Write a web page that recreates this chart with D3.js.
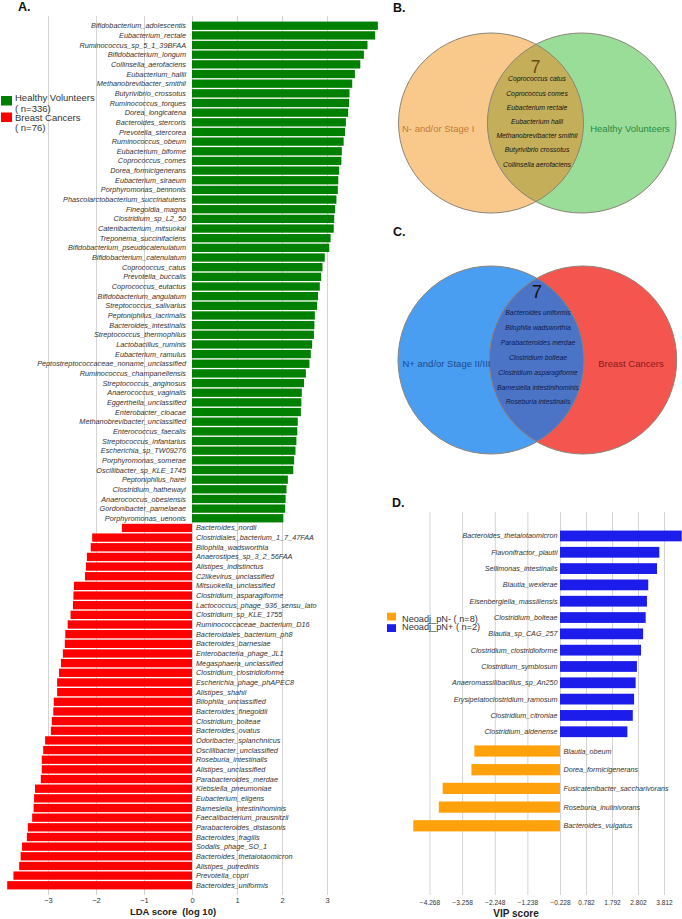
<!DOCTYPE html>
<html>
<head>
<meta charset="utf-8">
<script src="https://cdn.jsdelivr.net/npm/d3@7"></script>
<style>
  body { margin: 0; background: #fff; }
  svg { font-family: "Liberation Sans", Arial, sans-serif; }
  .tick text { fill: #333; }
  .tick line { stroke: #d4d4d4; }
</style>
</head>
<body>
<div id="chart"></div>
<script>
/* DATA */
// panel A: LEfSe, healthy volunteers (positive) vs breast cancers (negative)
const healthyTaxa = [
  "Bifidobacterium_adolescentis", "Eubacterium_rectale", "Ruminococcus_sp_5_1_39BFAA",
  "Bifidobacterium_longum", "Collinsella_aerofaciens", "Eubacterium_hallii",
  "Methanobrevibacter_smithii", "Butyrivibrio_crossotus", "Ruminococcus_torques",
  "Dorea_longicatena", "Bacteroides_stercoris", "Prevotella_stercorea",
  "Ruminococcus_obeum", "Eubacterium_biforme", "Coprococcus_comes",
  "Dorea_formicigenerans", "Eubacterium_siraeum", "Porphyromonas_bennonis",
  "Phascolarctobacterium_succinatutens", "Finegoldia_magna", "Clostridium_sp_L2_50",
  "Catenibacterium_mitsuokai", "Treponema_succinifaciens", "Bifidobacterium_pseudocatenulatum",
  "Bifidobacterium_catenulatum", "Coprococcus_catus", "Prevotella_buccalis",
  "Coprococcus_eutactus", "Bifidobacterium_angulatum", "Streptococcus_salivarius",
  "Peptoniphilus_lacrimalis", "Bacteroides_intestinalis", "Streptococcus_thermophilus",
  "Lactobacillus_ruminis", "Eubacterium_ramulus", "Peptostreptococcaceae_noname_unclassified",
  "Ruminococcus_champanellensis", "Streptococcus_anginosus", "Anaerococcus_vaginalis",
  "Eggerthella_unclassified", "Enterobacter_cloacae", "Methanobrevibacter_unclassified",
  "Enterococcus_faecalis", "Streptococcus_infantarius", "Escherichia_sp_TW09276",
  "Porphyromonas_somerae", "Oscillibacter_sp_KLE_1745", "Peptoniphilus_harei",
  "Clostridium_hathewayi", "Anaerococcus_obesiensis", "Gordonibacter_pamelaeae",
  "Porphyromonas_uenonis"
];
const healthyLDA = [
  4.13, 4.07, 3.90, 3.82, 3.74, 3.62, 3.56, 3.50, 3.49, 3.47,
  3.42, 3.40, 3.37, 3.33, 3.32, 3.27, 3.25, 3.24, 3.21, 3.18,
  3.16, 3.15, 3.08, 3.05, 2.95, 2.90, 2.87, 2.84, 2.80, 2.78,
  2.73, 2.72, 2.71, 2.67, 2.64, 2.61, 2.53, 2.49, 2.44, 2.43,
  2.42, 2.35, 2.34, 2.32, 2.30, 2.27, 2.25, 2.13, 2.10, 2.08,
  2.07, 2.03
];
const cancerTaxa = [
  "Bacteroides_nordii", "Clostridiales_bacterium_1_7_47FAA", "Bilophila_wadsworthia",
  "Anaerostipes_sp_3_2_56FAA", "Alistipes_indistinctus", "C2likevirus_unclassified",
  "Mitsuokella_unclassified", "Clostridium_asparagiforme", "Lactococcus_phage_936_sensu_lato",
  "Clostridium_sp_KLE_1755", "Ruminococcaceae_bacterium_D16", "Bacteroidales_bacterium_ph8",
  "Bacteroides_barnesiae", "Enterobacteria_phage_JL1", "Megasphaera_unclassified",
  "Clostridium_clostridioforme", "Escherichia_phage_phAPEC8", "Alistipes_shahii",
  "Bilophila_unclassified", "Bacteroides_finegoldii", "Clostridium_bolteae",
  "Bacteroides_ovatus", "Odoribacter_splanchnicus", "Oscillibacter_unclassified",
  "Roseburia_intestinalis", "Alistipes_unclassified", "Parabacteroides_merdae",
  "Klebsiella_pneumoniae", "Eubacterium_eligens", "Barnesiella_intestinihominis",
  "Faecalibacterium_prausnitzii", "Parabacteroides_distasonis", "Bacteroides_fragilis",
  "Sodalis_phage_SO_1", "Bacteroides_thetaiotaomicron", "Alistipes_putredinis",
  "Prevotella_copri", "Bacteroides_uniformis"
];
const cancerLDA = [
  -1.46, -2.08, -2.11, -2.19, -2.21, -2.23, -2.46, -2.47, -2.48, -2.53,
  -2.59, -2.64, -2.65, -2.69, -2.73, -2.77, -2.81, -2.81, -2.88, -2.89,
  -2.92, -2.94, -3.06, -3.10, -3.13, -3.13, -3.15, -3.27, -3.29, -3.30,
  -3.33, -3.42, -3.44, -3.54, -3.57, -3.60, -3.72, -3.85
];
const ldaTicks = [-3, -2, -1, 0, 1, 2, 3];
const groupsA = ["Healthy Volunteers", "Breast Cancers"];
const groupsAn = ["( n=336)", "( n=76)"];

// panels B and C: venn overlaps
const vennBSets = ["N- and/or Stage I", "Healthy Volunteers"];
const vennBShared = [
  "Coprococcus catus", "Coprococcus comes", "Eubacterium rectale", "Eubacterium halli",
  "Methanobrevibacter smithii", "Butyrivibrio crossotus", "Collinsella aerofaciens"
];
const vennCSets = ["N+ and/or Stage II/III", "Breast Cancers"];
const vennCShared = [
  "Bacteroides uniformis", "Bilophila wadsworthia", "Parabacteroides merdae",
  "Clostridium bolteae", "Clostridium asparagiforme", "Barnesiella intestinihominis",
  "Roseburia intestinalis"
];

// panel D: VIP scores
const pnPosTaxa = [
  "Bacteroides_thetaiotaomicron", "Flavonifractor_plautii", "Sellimonas_intestinalis",
  "Blautia_wexlerae", "Eisenbergiella_massiliensis", "Clostridium_bolteae",
  "Blautia_sp_CAG_257", "Clostridium_clostridioforme", "Clostridium_symbiosum",
  "Anaeromassilibacillus_sp_An250", "Erysipelatoclostridium_ramosum",
  "Clostridium_citroniae", "Clostridium_aldenense"
];
const pnPosVIP = [4.50, 3.63, 3.54, 3.20, 3.15, 3.10, 3.00, 2.92, 2.76, 2.71, 2.65, 2.60, 2.39];
const pnNegTaxa = [
  "Blautia_obeum", "Dorea_formicigenerans", "Fusicatenibacter_saccharivorans",
  "Roseburia_inulinivorans", "Bacteroides_vulgatus"
];
const pnNegVIP = [-2.88, -2.97, -3.86, -3.98, -4.77];
const vipTicks = [-4.268, -3.258, -2.248, -1.238, -0.228, 0.782, 1.792, 2.802, 3.812];
const groupsD = ["Neoadj_pN- ( n=8)", "Neoadj_pN+ ( n=2)"];

/* SVG */
const width = 682, height = 919;
const svg = d3.select("#chart").append("svg")
  .attr("width", width).attr("height", height);
svg.append("rect").attr("width", width).attr("height", height).attr("fill", "#fff");

function panelLabel(txt, x, y) {
  svg.append("text").attr("x", x).attr("y", y)
    .attr("font-size", 12.5).attr("font-weight", "bold").attr("fill", "#111")
    .text(txt);
}

/* PANEL A */
const ldaData = healthyTaxa.map((t, i) => ({ taxon: t, v: healthyLDA[i], g: 0 }))
  .concat(cancerTaxa.map((t, i) => ({ taxon: t, v: cancerLDA[i], g: 1 })));

const xA = d3.scaleLinear().domain([-3, 0, 3]).range([48, 192, 327]);
const yA = d3.scaleBand()
  .domain(ldaData.map(d => d.taxon + d.g))
  .range([20.9, 890.1])
  .paddingInner(0.14).paddingOuter(0.07);

const gA = svg.append("g");
gA.append("g")
  .attr("transform", `translate(0,895)`)
  .call(d3.axisBottom(xA).tickValues(ldaTicks).tickSize(-879).tickPadding(3).tickFormat(d3.format("d")))
  .call(g => g.select(".domain").remove())
  .call(g => g.selectAll("text").attr("font-size", 7.5).attr("font-family", null));

gA.selectAll("rect.lda")
  .data(ldaData)
  .join("rect")
  .attr("class", "lda")
  .attr("x", d => Math.min(xA(0), xA(d.v)))
  .attr("width", d => Math.abs(xA(d.v) - xA(0)))
  .attr("y", d => yA(d.taxon + d.g))
  .attr("height", yA.bandwidth())
  .attr("fill", d => d.g === 0 ? "#008000" : "#ff0000");

gA.selectAll("text.taxon")
  .data(ldaData)
  .join("text")
  .attr("class", "taxon")
  .attr("x", d => d.g === 0 ? xA(0) - 6 : xA(0) + 4)
  .attr("y", d => yA(d.taxon + d.g) + yA.bandwidth() / 2)
  .attr("dy", "0.35em")
  .attr("text-anchor", d => d.g === 0 ? "end" : "start")
  .attr("font-size", 7.3)
  .attr("font-style", "italic")
  .attr("fill", "#333")
  .text(d => d.taxon);

gA.append("text")
  .attr("x", 173).attr("y", 915)
  .attr("text-anchor", "middle")
  .attr("font-size", 9.5).attr("font-weight", "bold").attr("fill", "#222")
  .attr("xml:space", "preserve")
  .text("LDA score  (log 10)");

// legend A
const legA = gA.append("g");
legA.selectAll("rect")
  .data(groupsA)
  .join("rect")
  .attr("x", 1)
  .attr("y", (d, i) => 96 + i * 16.5)
  .attr("width", 11).attr("height", 9.5)
  .attr("fill", (d, i) => i === 0 ? "#008000" : "#ff0000");
legA.selectAll("text.name")
  .data(groupsA)
  .join("text")
  .attr("class", "name")
  .attr("x", 15)
  .attr("y", (d, i) => 100.5 + i * 20.3)
  .attr("font-size", 9.5).attr("fill", "#333")
  .text(d => d);
legA.selectAll("text.n")
  .data(groupsAn)
  .join("text")
  .attr("class", "n")
  .attr("x", 15)
  .attr("y", (d, i) => 111.5 + i * 19.5)
  .attr("font-size", 9.5).attr("fill", "#333")
  .text(d => d);

panelLabel("A.", 18, 11);

/* VENN */
function venn(cfg) {
  const g = svg.append("g");
  const id = cfg.id;
  g.append("clipPath").attr("id", id)
    .append("ellipse")
    .attr("cx", cfg.right.cx).attr("cy", cfg.cy)
    .attr("rx", cfg.right.rx).attr("ry", cfg.right.ry);

  g.append("ellipse")
    .attr("cx", cfg.left.cx).attr("cy", cfg.cy)
    .attr("rx", cfg.left.rx).attr("ry", cfg.left.ry)
    .attr("fill", cfg.colors[0]);
  g.append("ellipse")
    .attr("cx", cfg.right.cx).attr("cy", cfg.cy)
    .attr("rx", cfg.right.rx).attr("ry", cfg.right.ry)
    .attr("fill", cfg.colors[1]);
  g.append("ellipse")
    .attr("clip-path", `url(#${id})`)
    .attr("cx", cfg.left.cx).attr("cy", cfg.cy)
    .attr("rx", cfg.left.rx).attr("ry", cfg.left.ry)
    .attr("fill", cfg.colors[2]);
  // outlines
  [cfg.left, cfg.right].forEach(c => {
    g.append("ellipse")
      .attr("cx", c.cx).attr("cy", cfg.cy).attr("rx", c.rx).attr("ry", c.ry)
      .attr("fill", "none").attr("stroke", "#8c8478").attr("stroke-width", 1);
  });

  g.append("text")
    .attr("x", cfg.numX).attr("y", cfg.numY)
    .attr("text-anchor", "middle")
    .attr("font-size", cfg.numSize).attr("fill", cfg.numColor)
    .text(cfg.shared.length);

  g.selectAll("text.sp")
    .data(cfg.shared)
    .join("text")
    .attr("class", "sp")
    .attr("x", cfg.listX)
    .attr("y", (d, i) => cfg.listY + i * cfg.listStep)
    .attr("dy", "0.35em")
    .attr("text-anchor", "middle")
    .attr("font-size", 6.8).attr("font-style", "italic").attr("fill", cfg.listColor)
    .text(d => d);

  g.append("text")
    .attr("x", cfg.labelL).attr("y", cfg.cy + cfg.labelDy).attr("dy", "0.35em")
    .attr("font-size", 9.5).attr("fill", cfg.textColors[0])
    .text(cfg.sets[0]);
  g.append("text")
    .attr("x", cfg.labelR).attr("y", cfg.cy + cfg.labelDy).attr("dy", "0.35em")
    .attr("text-anchor", "middle")
    .attr("font-size", 9.5).attr("fill", cfg.textColors[1])
    .text(cfg.sets[1]);
}

venn({
  id: "clipB", cy: 123,
  left: { cx: 491, rx: 92.5, ry: 90 },
  right: { cx: 581.7, rx: 94.3, ry: 90 },
  colors: ["#f9c98c", "#99dd99", "#c4ae5a"],
  numX: 535.5, numY: 72.7, numSize: 17.5, numColor: "#6b4a12",
  shared: vennBShared, listX: 537, listY: 79, listStep: 14.2, listColor: "#111",
  sets: vennBSets, labelL: 402, labelR: 630, labelDy: 5.5,
  textColors: ["#c47a35", "#2b8a3e"]
});
panelLabel("B.", 393, 12);

venn({
  id: "clipC", cy: 360,
  left: { cx: 491, rx: 93, ry: 94 },
  right: { cx: 583, rx: 93.7, ry: 94 },
  colors: ["#4a9ef2", "#f4554f", "#4b74c6"],
  numX: 537, numY: 298.3, numSize: 18.5, numColor: "#111",
  shared: vennCShared, listX: 538, listY: 312.7, listStep: 14.9, listColor: "#0d1a45",
  sets: vennCSets, labelL: 402.5, labelR: 631, labelDy: 3.5,
  textColors: ["#1e4a8a", "#8b1a1a"]
});
panelLabel("C.", 393, 236);

/* PANEL D */
const xD = d3.scaleLinear().domain([-4.268, -0.228, 3.812]).range([429.5, 560, 664]);
const yPos = d3.scaleBand().domain(pnPosTaxa).range([527.8, 739.9]).paddingInner(0.34).paddingOuter(0.17);
const yNeg = d3.scaleBand().domain(pnNegTaxa).range([741.65, 835.15]).paddingInner(0.4).paddingOuter(0.2);
const vipData = pnPosTaxa.map((t, i) => ({ taxon: t, v: pnPosVIP[i], pos: true, y: yPos(t), h: yPos.bandwidth() }))
  .concat(pnNegTaxa.map((t, i) => ({ taxon: t, v: pnNegVIP[i], pos: false, y: yNeg(t), h: yNeg.bandwidth() })));

const gD = svg.append("g");
gD.append("g")
  .attr("transform", `translate(0,895)`)
  .call(d3.axisBottom(xD).tickValues(vipTicks).tickSize(-383).tickPadding(5).tickFormat(d3.format(".3f")))
  .call(g => g.select(".domain").remove())
  .call(g => g.selectAll("text").attr("font-size", 6.6).attr("font-family", null));

gD.selectAll("rect.vip")
  .data(vipData)
  .join("rect")
  .attr("class", "vip")
  .attr("x", d => Math.min(xD(-0.228), xD(d.v)))
  .attr("width", d => Math.abs(xD(d.v) - xD(-0.228)))
  .attr("y", d => d.y)
  .attr("height", d => d.h)
  .attr("fill", d => d.pos ? "#1c1ceb" : "#ffa10a");

gD.selectAll("text.taxon")
  .data(vipData)
  .join("text")
  .attr("class", "taxon")
  .attr("x", d => d.pos ? xD(-0.228) - 2.5 : xD(-0.228) + 3.5)
  .attr("y", d => d.y + d.h / 2)
  .attr("dy", "0.35em")
  .attr("text-anchor", d => d.pos ? "end" : "start")
  .attr("font-size", 7.2).attr("font-style", "italic").attr("fill", "#333")
  .text(d => d.taxon);

gD.append("text")
  .attr("x", 516).attr("y", 917)
  .attr("text-anchor", "middle")
  .attr("font-size", 10).attr("font-weight", "bold").attr("fill", "#222")
  .text("VIP score");

const legD = gD.append("g");
legD.selectAll("rect")
  .data(groupsD)
  .join("rect")
  .attr("x", 387)
  .attr("y", (d, i) => 612.7 + i * 11.5)
  .attr("width", 9).attr("height", 7.8)
  .attr("fill", (d, i) => i === 0 ? "#ffa10a" : "#1c1ceb");
legD.selectAll("text")
  .data(groupsD)
  .join("text")
  .attr("x", 402)
  .attr("y", (d, i) => 621.5 + i * 8)
  .attr("font-size", 9.2).attr("fill", "#333")
  .text(d => d);

panelLabel("D.", 392, 507);
</script>
</body>
</html>
